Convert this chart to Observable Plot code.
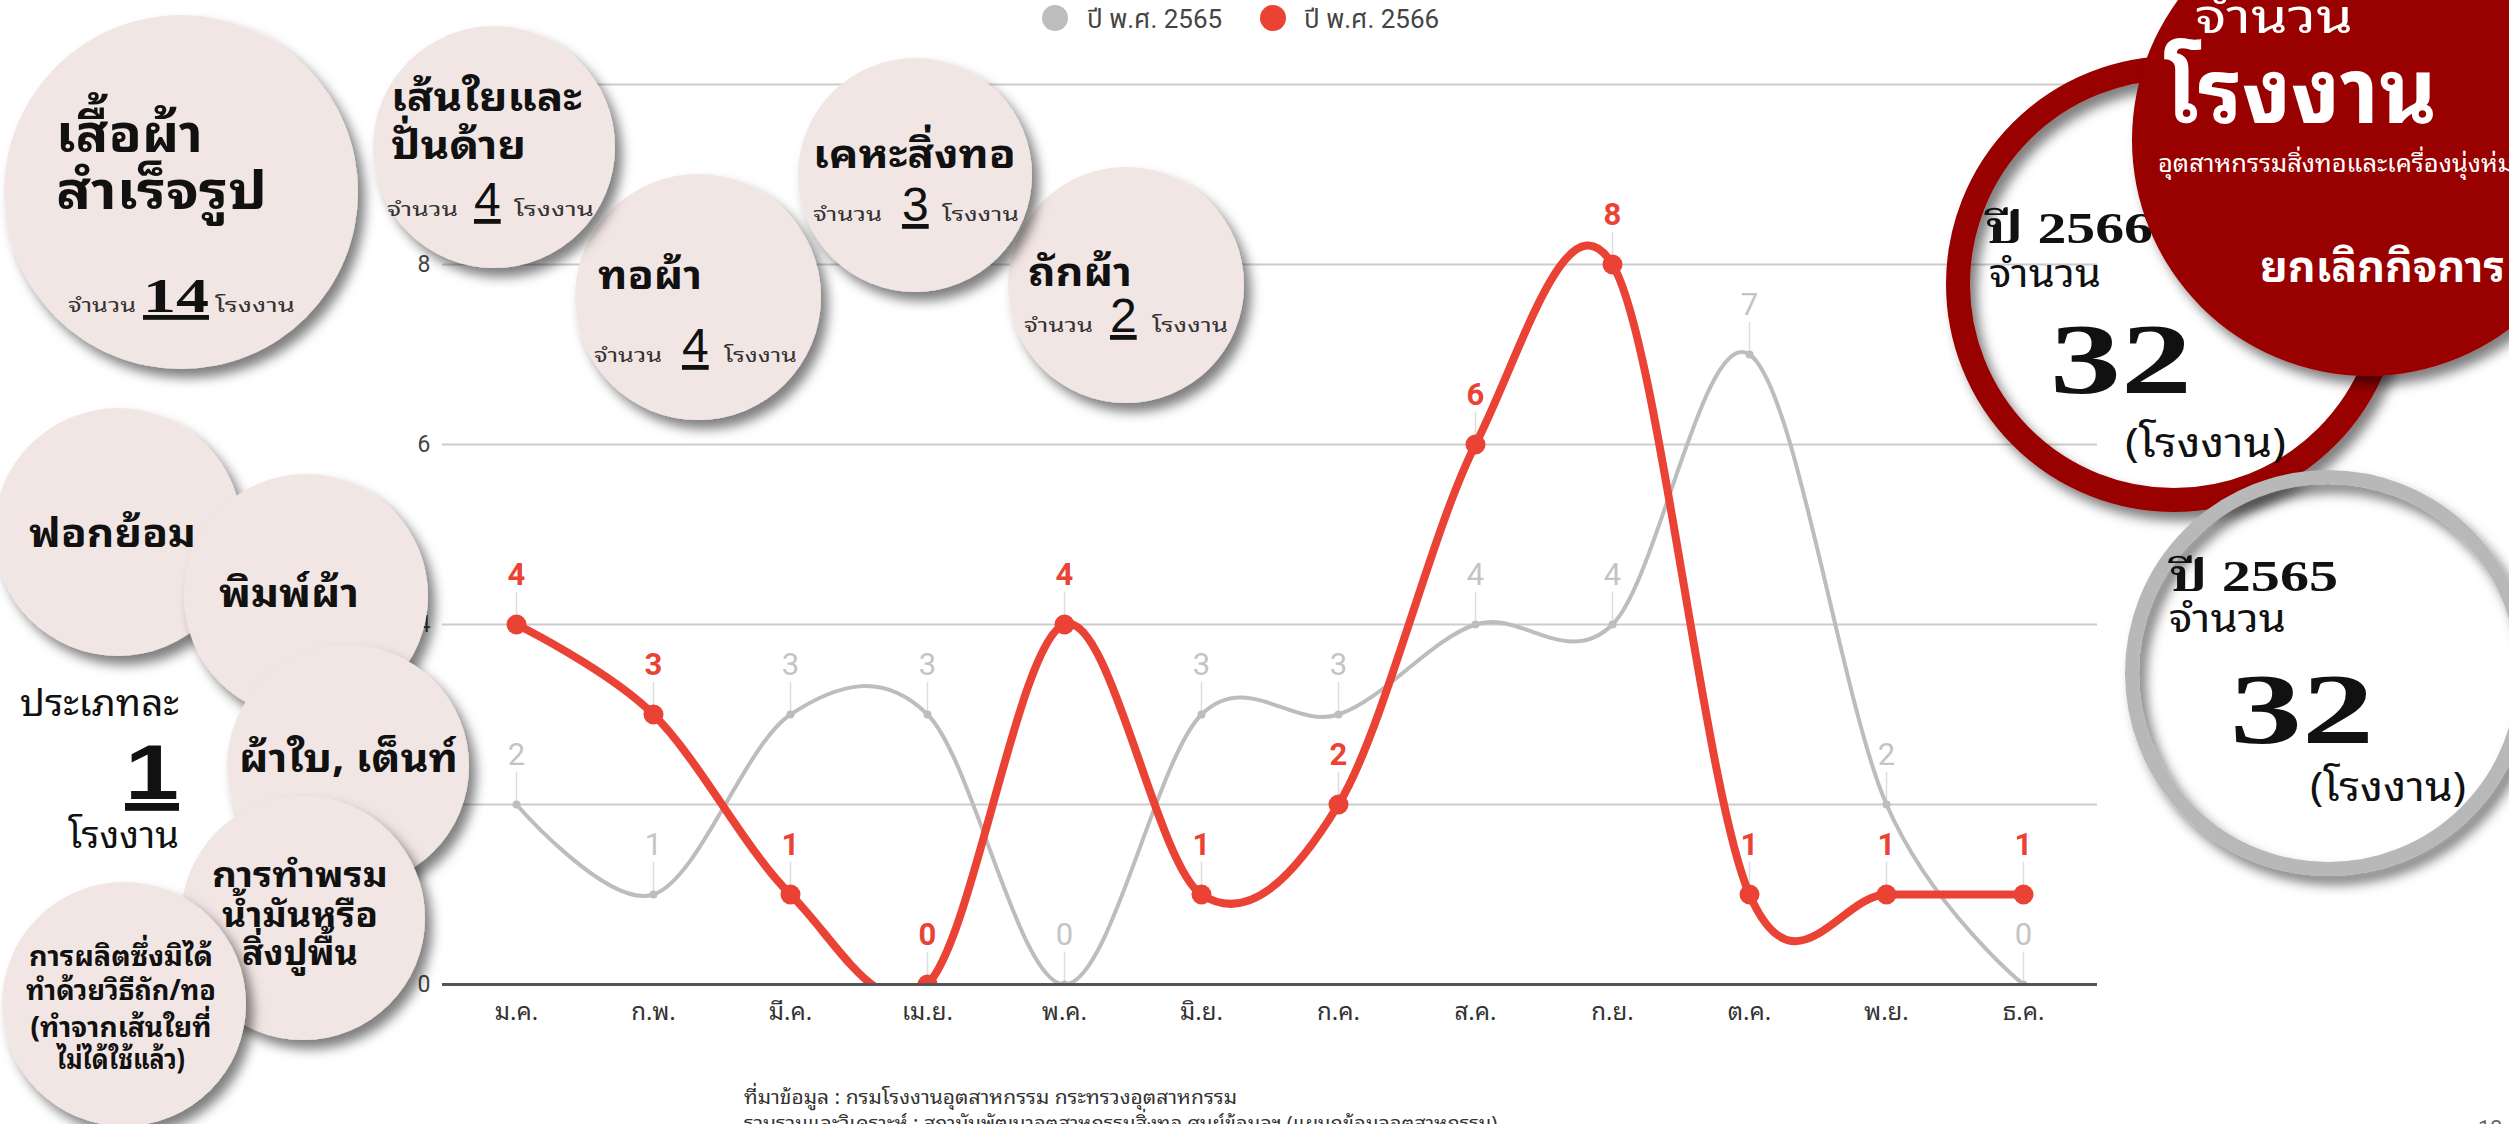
<!DOCTYPE html>
<html>
<head>
<meta charset="utf-8">
<script src="https://cdn.jsdelivr.net/npm/d3@7"></script>
<script src="https://cdn.jsdelivr.net/npm/@observablehq/plot@0.6"></script>
<style>
  html, body { margin: 0; padding: 0; background: #ffffff; }
  #wrap { position: relative; width: 2509px; height: 1124px; overflow: hidden; background: #fff; }
  #wrap > svg { position: absolute; left: 0; top: 0; }
</style>
</head>
<body>
<div id="wrap"></div>
<script>
// ---------------- data ----------------
const months = ["ม.ค.","ก.พ.","มี.ค.","เม.ย.","พ.ค.","มิ.ย.","ก.ค.","ส.ค.","ก.ย.","ต.ค.","พ.ย.","ธ.ค."];
const seriesNames = ["ปี พ.ศ. 2565", "ปี พ.ศ. 2566"];
const values2565 = [2, 1, 3, 3, 0, 3, 3, 4, 4, 7, 2, 0];
const values2566 = [4, 3, 1, 0, 4, 1, 2, 6, 8, 1, 1, 1];
const yTicks = [0, 2, 4, 6, 8, 10];

const groupNames = [["เสื้อผ้า", "สำเร็จรูป"], ["เส้นใยและ", "ปั่นด้าย"], ["ทอผ้า"], ["เคหะสิ่งทอ"], ["ถักผ้า"]];
const groupCounts = [14, 4, 4, 3, 2];
const singleNames = [["ฟอกย้อม"], ["พิมพ์ผ้า"], ["ผ้าใบ, เต็นท์"], ["การทำพรม", "น้ำมันหรือ", "สิ่งปูพื้น"], ["การผลิตซึ่งมิได้", "ทำด้วยวิธีถัก/ทอ", "(ทำจากเส้นใยที่", "ไม่ได้ใช้แล้ว)"]];
const singleCount = 1;
const perTypeWord = "ประเภทละ";
const totalYears = ["2566", "2565"];
const totalCounts = [32, 32];
const unitWord = "โรงงาน";
const countWord = "จำนวน";
const yearWord = "ปี";
const headline = ["จำนวน", "โรงงาน", "อุตสาหกรรมสิ่งทอและเครื่องนุ่งห่ม", "ยกเลิกกิจการ"];
const sourceLines = ["ที่มาข้อมูล : กรมโรงงานอุตสาหกรรม กระทรวงอุตสาหกรรม",
                     "รวบรวมและวิเคราะห์ : สถาบันพัฒนาอุตสาหกรรมสิ่งทอ ศูนย์ข้อมูลฯ (แผนกข้อมูลอุตสาหกรรม)"];
const pageNumber = "13";

// ---------------- styles ----------------
const GRAY = "#bdbdbd", RED = "#ea4335", DARKRED = "#990000", BUBBLE = "#f2e6e4";
const THAI = "'Noto Sans Thai Looped', 'Noto Sans Thai', Loma, Garuda, 'Liberation Sans', 'DejaVu Sans', sans-serif";
const SERIF = "'Liberation Serif', 'DejaVu Serif', 'Noto Serif Thai', serif";
const SANS = "'Liberation Sans', Arial, sans-serif";
const ROBOTO = "Roboto, 'Noto Sans Thai', sans-serif";

const rows = (vals, name) => months.map((m, i) => ({month: m, series: name, value: vals[i]}));
const d65 = rows(values2565, seriesNames[0]);
const d66 = rows(values2566, seriesNames[1]);

// ---------------- chart ----------------
const chart = Plot.plot({
  width: 2509,
  height: 1124,
  marginLeft: 442,
  marginRight: 412,
  marginTop: 84,
  marginBottom: 140,
  style: {fontFamily: ROBOTO, background: "transparent", overflow: "visible"},
  x: {type: "point", domain: months, padding: 0.5, axis: null, label: null},
  y: {domain: [0, 10], axis: null, label: null},
  marks: [
    Plot.gridY(yTicks, {stroke: "#cccccc", strokeOpacity: 1, strokeWidth: 2}),
    Plot.axisY(yTicks, {tickSize: 0, tickPadding: 12, fontSize: 23, fill: "#444", label: null, tickFormat: d3.format("d")}),
    Plot.axisX({tickSize: 0, tickPadding: 18, fontSize: 24, fill: "#333", label: null, fontFamily: THAI}),
    Plot.vector(d65, {x: "month", y: "value", length: 32, rotate: 0, anchor: "start", r: 0, stroke: "#dddddd", strokeWidth: 1.5}),
    Plot.vector(d66, {x: "month", y: "value", length: 32, rotate: 0, anchor: "start", r: 0, stroke: "#dddddd", strokeWidth: 1.5}),
    Plot.line(d65, {x: "month", y: "value", stroke: GRAY, strokeWidth: 4, curve: "cardinal", tension: 0, clip: true}),
    Plot.dot(d65, {x: "month", y: "value", r: 4, fill: GRAY, clip: true}),
    Plot.text(d65, {x: "month", y: "value", text: d => String(d.value), dy: -40, lineAnchor: "bottom", fill: "#c4c4c4", fontSize: 31, fontFamily: ROBOTO}),
    Plot.line(d66, {x: "month", y: "value", stroke: RED, strokeWidth: 8, curve: "cardinal", tension: 0, clip: true}),
    Plot.dot(d66, {x: "month", y: "value", r: 10, fill: RED, clip: true}),
    Plot.text(d66, {x: "month", y: "value", text: d => String(d.value), dy: -40, lineAnchor: "bottom", fill: RED, fontSize: 31, fontWeight: "bold", fontFamily: ROBOTO}),
    Plot.ruleY([0], {stroke: "#555", strokeWidth: 3})
  ]
});
const wrap = document.getElementById("wrap");
wrap.appendChild(chart);

// ---------------- decorative layer (legend, bubbles, totals, caption) ----------------
const svg = d3.create("svg").attr("width", 2509).attr("height", 1124).attr("viewBox", "0 0 2509 1124");
const defs = svg.append("defs");
const f = defs.append("filter").attr("id", "sh").attr("x", "-20%").attr("y", "-20%").attr("width", "150%").attr("height", "150%");
f.append("feDropShadow").attr("dx", 7).attr("dy", 9).attr("stdDeviation", 6).attr("flood-color", "#000").attr("flood-opacity", 0.5);

function txt(s, x, y, o = {}) {
  const t = svg.append("text").attr("x", x).attr("y", y).text(s)
    .attr("font-family", o.family || THAI)
    .attr("font-size", o.size || 20)
    .attr("font-weight", o.weight || "normal")
    .attr("fill", o.fill || "#111")
    .attr("text-anchor", o.anchor || "start");
  if (o.len) t.attr("textLength", o.len).attr("lengthAdjust", "spacingAndGlyphs");
  if (o.underline) t.style("text-decoration", "underline");
  return t;
}
function bubble(cx, cy, r) {
  svg.append("circle").attr("cx", cx).attr("cy", cy).attr("r", r).attr("fill", BUBBLE).attr("filter", "url(#sh)");
}
// "จำนวน N โรงงาน" line: xs = start of each part, ls = widths of the two words
function countLine(y, num, xs, ls, numSize = 48) {
  txt(countWord, xs[0], y, {size: 20, fill: "#333", len: ls[0]});
  txt(String(num), xs[1], y, {size: numSize, family: SANS, underline: true});
  txt(unitWord, xs[2], y, {size: 20, fill: "#333", len: ls[1]});
}

// legend
svg.append("circle").attr("cx", 1055).attr("cy", 18).attr("r", 13).attr("fill", GRAY);
txt(seriesNames[0], 1087, 28, {size: 26, fill: "#444", family: ROBOTO});
svg.append("circle").attr("cx", 1273).attr("cy", 18).attr("r", 13).attr("fill", RED);
txt(seriesNames[1], 1304, 28, {size: 26, fill: "#444", family: ROBOTO});

// top group bubbles
bubble(181, 192, 177);
txt(groupNames[0][0], 56, 152, {size: 52, weight: "bold", len: 147});
txt(groupNames[0][1], 56, 209, {size: 52, weight: "bold", len: 211});
txt(countWord, 68, 312, {size: 20, fill: "#333", len: 68});
txt(String(groupCounts[0]), 143, 312, {size: 48, weight: "bold", family: SERIF, underline: true, len: 66});
txt(unitWord, 215, 312, {size: 20, fill: "#333", len: 80});

bubble(698, 297, 123);
txt(groupNames[2][0], 598, 289, {size: 40, weight: "bold", len: 104});
countLine(362, groupCounts[2], [594, 682, 724], [68, 73]);

bubble(1126, 285, 118);
txt(groupNames[4][0], 1028, 286, {size: 40, weight: "bold", len: 104});
countLine(332, groupCounts[4], [1024, 1110, 1152], [69, 76]);

bubble(494, 147, 121);
txt(groupNames[1][0], 391, 111, {size: 40, weight: "bold", len: 191});
txt(groupNames[1][1], 391, 159, {size: 40, weight: "bold", len: 135});
countLine(216, groupCounts[1], [387, 474, 514], [71, 80]);

bubble(915, 175, 117);
txt(groupNames[3][0], 813, 168, {size: 40, weight: "bold", len: 203});
countLine(221, groupCounts[3], [813, 902, 942], [69, 77]);

// single-factory bubbles
bubble(118, 532, 124);
txt(singleNames[0][0], 29, 547, {size: 40, weight: "bold", len: 167});
bubble(306, 596, 122);
txt(singleNames[1][0], 219, 607, {size: 40, weight: "bold", len: 140});
bubble(348, 766, 121);
txt(singleNames[2][0], 239, 772, {size: 40, weight: "bold", len: 219});
bubble(303, 918, 122);
[[887, 176], [927, 156], [965, 116]].forEach(([y, l], i) => txt(singleNames[3][i], 300, y, {size: 34, weight: "bold", anchor: "middle", len: l}));
bubble(124, 1004, 122);
[[966, 184], [1000, 190], [1037, 181], [1069, 128]].forEach(([y, l], i) => txt(singleNames[4][i], 121, y, {size: 28, weight: "bold", anchor: "middle", len: l}));

txt(perTypeWord, 179, 716, {size: 36, anchor: "end", len: 159});
txt(String(singleCount), 179, 799, {size: 78, weight: "bold", anchor: "end", family: SANS, underline: true, len: 54});
txt(unitWord, 179, 848, {size: 36, anchor: "end", len: 111});

// totals: 2566 ring, headline circle, 2565 ring
svg.append("circle").attr("cx", 2174).attr("cy", 284).attr("r", 216).attr("fill", "none")
  .attr("stroke", DARKRED).attr("stroke-width", 24).attr("filter", "url(#sh)");
txt(yearWord + " " + totalYears[0], 1985, 243, {size: 44, weight: "bold", family: SERIF, len: 168});
txt(countWord, 1989, 287, {size: 38, len: 112});
txt(String(totalCounts[0]), 2050, 392, {size: 100, weight: "bold", family: SERIF, len: 142});
txt("(" + unitWord + ")", 2125, 457, {size: 40, len: 161});

svg.append("circle").attr("cx", 2368).attr("cy", 140).attr("r", 236).attr("fill", DARKRED).attr("filter", "url(#sh)");
txt(headline[0], 2195, 33, {size: 46, fill: "#fff", len: 158});
txt(headline[1], 2165, 123, {size: 90, weight: "bold", fill: "#fff", len: 272});
txt(headline[2], 2158, 172, {size: 24, fill: "#fff", len: 356});
txt(headline[3], 2260, 282, {size: 44, weight: "bold", fill: "#fff", len: 245});

svg.append("circle").attr("cx", 2328).attr("cy", 673).attr("r", 196).attr("fill", "none")
  .attr("stroke", "#b8b8b8").attr("stroke-width", 14).attr("filter", "url(#sh)");
txt(yearWord + " " + totalYears[1], 2169, 591, {size: 44, weight: "bold", family: SERIF, len: 169});
txt(countWord, 2169, 632, {size: 38, len: 117});
txt(String(totalCounts[1]), 2230, 742, {size: 100, weight: "bold", family: SERIF, len: 144});
txt("(" + unitWord + ")", 2310, 801, {size: 40, len: 156});

// caption
txt(sourceLines[0], 744, 1104, {size: 20, fill: "#333", len: 493});
txt(sourceLines[1], 744, 1130, {size: 20, fill: "#333"});
txt(pageNumber, 2478, 1136, {size: 22, fill: "#666", family: ROBOTO});

wrap.appendChild(svg.node());
</script>
</body>
</html>
